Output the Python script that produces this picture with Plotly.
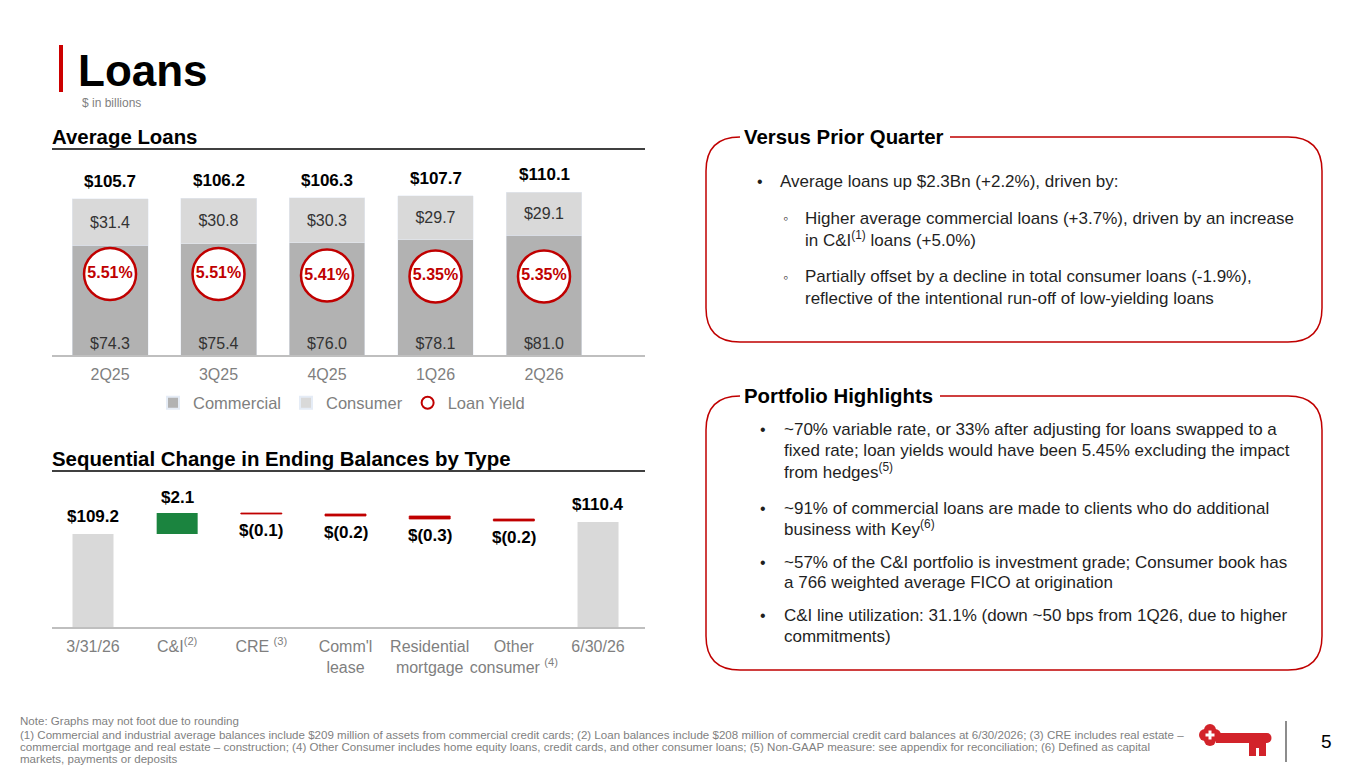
import numpy as np
import plotly.graph_objects as go

# ---- data ($ in billions) ----
quarters = ['2Q25', '3Q25', '4Q25', '1Q26', '2Q26']
commercial = [74.3, 75.4, 76.0, 78.1, 81.0]
consumer = [31.4, 30.8, 30.3, 29.7, 29.1]
totals = [105.7, 106.2, 106.3, 107.7, 110.1]
loan_yield = [5.51, 5.51, 5.41, 5.35, 5.35]

wf_labels = ['3/31/26', 'C&I<sup>(2)</sup>', 'CRE <sup>(3)</sup>', "Comm'l<br>lease",
             'Residential<br>mortgage', 'Other<br>consumer <sup>(4)</sup>', '6/30/26']
wf_values = [109.2, 2.1, -0.1, -0.2, -0.3, -0.2, 110.4]
wf_measure = ['absolute', 'relative', 'relative', 'relative', 'relative', 'relative', 'absolute']

# page is 1365x768, the html body adds an 8px margin, so the figure is shrunk by it
W, H = 1365, 768
OFF = 8
FW, FH = W - OFF, H - OFF
FONT = 'Liberation Sans, Arial, sans-serif'
RED = '#C00000'
GRAY_TXT = '#7F7F7F'
DARK = '#1F1F1F'


def fx(px):
    return (px - OFF) / FW


def fy(py):
    return 1 - (py - OFF) / FH


def money(v):
    return f'${v:.1f}' if v >= 0 else f'$({abs(v):.1f})'


shapes = []
annotations = []


def note(x, y, text, size=17, color=DARK, bold=False, xanchor='left', **kw):
    if bold:
        text = f'<b>{text}</b>'
    annotations.append(dict(x=fx(x), y=fy(y), xref='paper', yref='paper', text=text,
                            showarrow=False, xanchor=xanchor, yanchor='middle',
                            font=dict(family=FONT, size=size, color=color), **kw))


fig = go.Figure()

# ---- Average loans: stacked bars + yield circles ----
fig.add_trace(go.Bar(
    x=quarters, y=commercial, name='Commercial', marker_color='#B2B2B2', width=0.70,
    text=[money(v) for v in commercial], textposition='inside', insidetextanchor='start',
    textfont=dict(family=FONT, size=16, color='#333333'), xaxis='x', yaxis='y'))
fig.add_trace(go.Bar(
    x=quarters, y=consumer, name='Consumer', marker_color='#D9D9D9', width=0.70,
    text=[money(v) for v in consumer], textposition='inside', insidetextanchor='middle',
    textfont=dict(family=FONT, size=16, color='#333333'), xaxis='x', yaxis='y'))
fig.add_trace(go.Scatter(
    x=quarters, y=loan_yield, name='Loan Yield', mode='markers+text',
    marker=dict(symbol='circle', size=52, color='white', line=dict(color=RED, width=2.5)),
    text=[f'<b>{v:.2f}%</b>' for v in loan_yield], textposition='middle center',
    textfont=dict(family=FONT, size=16, color=RED), xaxis='x', yaxis='y2', cliponaxis=False))

for q, t in zip(quarters, totals):
    annotations.append(dict(x=q, y=t, xref='x', yref='y', text=f'<b>{money(t)}</b>',
                            showarrow=False, yanchor='bottom', yshift=6,
                            font=dict(family=FONT, size=17, color='#000000')))

# ---- Sequential change waterfall ----
fig.add_trace(go.Waterfall(
    x=wf_labels, y=wf_values, measure=wf_measure, width=0.487, showlegend=False,
    increasing=dict(marker=dict(color='#1B843F')),
    decreasing=dict(marker=dict(color=RED, line=dict(color=RED, width=0.8))),
    totals=dict(marker=dict(color='#D9D9D9')),
    connector=dict(visible=False), xaxis='x2', yaxis='y3'))

level = 0.0
for lab, v, m in zip(wf_labels, wf_values, wf_measure):
    level = v if m == 'absolute' else level + v
    up = m == 'absolute' or v > 0
    shift = (6 if m == 'absolute' else 4) if up else -5
    annotations.append(dict(x=lab, y=level, xref='x2', yref='y3', text=f'<b>{money(v)}</b>',
                            showarrow=False, yanchor='bottom' if up else 'top', yshift=shift,
                            font=dict(family=FONT, size=17, color='#000000')))

# ---- header ----
shapes.append(dict(type='rect', xref='paper', yref='paper', x0=fx(59), x1=fx(63),
                   y0=fy(92), y1=fy(45), fillcolor='#CC0000', line_width=0))
note(76, 71, 'Loans', size=44, color='#000000', bold=True)
note(80, 103, '$ in billions', size=12, color=GRAY_TXT)

# section titles with underlines
note(50, 137, 'Average Loans', size=20.4, color='#000000', bold=True)
note(50, 459, 'Sequential Change in Ending Balances by Type', size=20.4, color='#000000', bold=True)
for yy in (149, 471):
    shapes.append(dict(type='line', xref='paper', yref='paper', x0=fx(52), x1=fx(645),
                       y0=fy(yy), y1=fy(yy), line=dict(color='#000000', width=1.5)))


# ---- right hand boxes ----
def box(x0, y0, x1, y1, gap_end, r=34):
    path = f'M{fx(gap_end)},{fy(y0)} L{fx(x1 - r)},{fy(y0)} '
    path += f'Q{fx(x1)},{fy(y0)} {fx(x1)},{fy(y0 + r)} '
    path += f'L{fx(x1)},{fy(y1 - r)} Q{fx(x1)},{fy(y1)} {fx(x1 - r)},{fy(y1)} '
    path += f'L{fx(x0 + r)},{fy(y1)} Q{fx(x0)},{fy(y1)} {fx(x0)},{fy(y1 - r)} '
    path += f'L{fx(x0)},{fy(y0 + r)} Q{fx(x0)},{fy(y0)} {fx(x0 + r)},{fy(y0)}'
    shapes.append(dict(type='path', xref='paper', yref='paper', path=path,
                       line=dict(color=RED, width=1.5)))


box(706, 137, 1322, 342, 950)
note(742, 137, 'Versus Prior Quarter', size=20.4, color='#000000', bold=True)
note(755, 182, '•', size=16)
note(778, 182, 'Average loans up $2.3Bn (+2.2%), driven by:')
note(781, 218, '◦', size=14)
note(803, 218, 'Higher average commercial loans (+3.7%), driven by an increase')
note(803, 239, 'in C&I<sup>(1)</sup> loans (+5.0%)')
note(781, 277, '◦', size=14)
note(803, 277, 'Partially offset by a decline in total consumer loans (-1.9%),')
note(803, 298, 'reflective of the intentional run-off of low-yielding loans')

box(706, 396, 1322, 670, 940)
note(742, 396, 'Portfolio Highlights', size=20.4, color='#000000', bold=True)
pf_lines = [
    (429, True, '~70% variable rate, or 33% after adjusting for loans swapped to a'),
    (450, False, 'fixed rate; loan yields would have been 5.45% excluding the impact'),
    (471, False, 'from hedges<sup>(5)</sup>'),
    (508, True, '~91% of commercial loans are made to clients who do additional'),
    (528, False, 'business with Key<sup>(6)</sup>'),
    (562, True, '~57% of the C&I portfolio is investment grade; Consumer book has'),
    (582, False, 'a 766 weighted average FICO at origination'),
    (615, True, 'C&I line utilization: 31.1% (down ~50 bps from 1Q26, due to higher'),
    (636, False, 'commitments)'),
]
for yy, bullet, s in pf_lines:
    if bullet:
        note(758, yy, '•', size=16)
    note(782, yy, s)

# ---- footer ----
foot = [
    (721, 'Note: Graphs may not foot due to rounding'),
    (735, '(1) Commercial and industrial average balances include $209 million of assets from commercial credit cards; '
          '(2) Loan balances include $208 million of commercial credit card balances at 6/30/2026; (3) CRE includes real estate –'),
    (747, 'commercial mortgage and real estate – construction; (4) Other Consumer includes home equity loans, credit cards, '
          'and other consumer loans; (5) Non-GAAP measure: see appendix for reconciliation; (6) Defined as capital'),
    (759, 'markets, payments or deposits'),
]
for yy, s in foot:
    note(18, yy, s, size=11.55, color=GRAY_TXT)

# key logo
KEY = '#D2232A'
for cx, cy in [(1205, 735), (1215, 735), (1210, 730), (1210, 740)]:
    shapes.append(dict(type='circle', xref='paper', yref='paper', x0=fx(cx - 6), x1=fx(cx + 6),
                       y0=fy(cy + 6), y1=fy(cy - 6), fillcolor=KEY, line_width=0))
rects = [
    (1204, 729, 1216, 741, KEY),
    (1216, 733, 1267, 743, KEY),
    (1249, 743, 1266, 756, KEY),
    (1256, 748, 1259, 756, 'white'),
    (1205.5, 733.5, 1214.5, 736.5, 'white'),
    (1208.5, 730.5, 1211.5, 739.5, 'white'),
]
for x0, y0, x1, y1, c in rects:
    shapes.append(dict(type='rect', xref='paper', yref='paper', x0=fx(x0), x1=fx(x1),
                       y0=fy(y1), y1=fy(y0), fillcolor=c, line_width=0))
shapes.append(dict(type='circle', xref='paper', yref='paper', x0=fx(1262.5), x1=fx(1271.5),
                   y0=fy(743), y1=fy(733), fillcolor=KEY, line_width=0))
shapes.append(dict(type='line', xref='paper', yref='paper', x0=fx(1286), x1=fx(1286),
                   y0=fy(762), y1=fy(721), line=dict(color='#404040', width=1.2)))
note(1326, 741, '5', size=19, color='#000000', xanchor='center')

axis_font = dict(family=FONT, size=16, color=GRAY_TXT)
fig.update_layout(
    width=FW, height=FH, autosize=False, margin=dict(l=0, r=0, t=0, b=0),
    paper_bgcolor='white', plot_bgcolor='rgba(0,0,0,0)',
    barmode='stack', hovermode=False, showlegend=True,
    xaxis=dict(domain=[fx(52), fx(645)], range=[-0.535, 4.931], type='category',
               showline=True, linecolor='#BFBFBF', linewidth=2, showgrid=False,
               zeroline=False, ticks='', tickfont=axis_font, ticklabelstandoff=4,
               tickangle=0, fixedrange=True),
    yaxis=dict(domain=[fy(355), fy(160)], range=[0, 132.0], visible=False, fixedrange=True),
    yaxis2=dict(overlaying='y', range=[0, 13.27], visible=False, fixedrange=True),
    xaxis2=dict(domain=[fx(52), fx(645)], range=[-0.487, 6.558], type='category', anchor='y3',
                showline=True, linecolor='#BFBFBF', linewidth=1.5, showgrid=False,
                zeroline=False, ticks='', tickfont=axis_font, ticklabelstandoff=4,
                tickangle=0, fixedrange=True),
    yaxis3=dict(domain=[fy(627), fy(480)], range=[99.9, 114.6], anchor='x2',
                visible=False, fixedrange=True),
    legend=dict(orientation='h', x=fx(153), y=fy(403), xanchor='left', yanchor='middle',
                font=dict(family=FONT, size=16.5, color=GRAY_TXT), itemsizing='constant',
                bgcolor='rgba(0,0,0,0)', traceorder='normal'),
    shapes=shapes, annotations=annotations,
    font=dict(family=FONT),
)

fig.write_html('out.html')
